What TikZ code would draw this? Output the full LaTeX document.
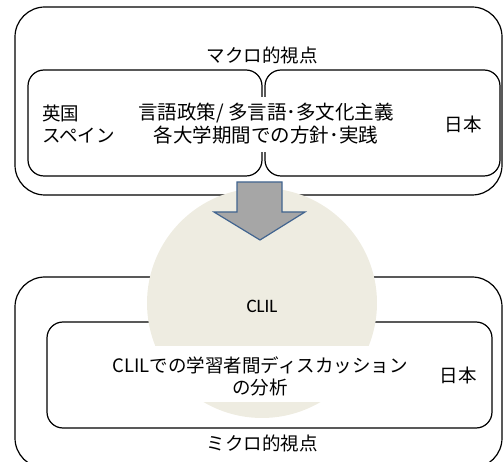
\documentclass[tikz,border=0pt]{standalone}
\usepackage{fontspec}
\setmainfont{Noto Sans CJK JP}
\newfontfamily\latinfont{Carlito}
\definecolor{beige}{HTML}{EEECE1}
\definecolor{arrowgray}{HTML}{A6A6A6}
\definecolor{arrowblue}{HTML}{41648F}
\begin{document}
\begin{tikzpicture}[x=1pt,y=-1pt,
  bigbox/.style={draw=black,line width=1.2pt,rounded corners=30pt},
  smallbox/.style={draw=black,line width=1.2pt,rounded corners=16pt},
  jtext/.style={font=\fontsize{18.5}{22}\selectfont,align=center,inner sep=0pt},
  cover/.style={fill=white,draw=none}]
\useasboundingbox (0,0) rectangle (504,462);
% top part
\draw[bigbox] (15,7) rectangle (502,195);
\draw[smallbox] (28,70) rectangle (262,176);
\draw[smallbox] (265,70) rectangle (500,176);
\fill[cover] (130,97) rectangle (400,152);
\node[jtext] (macro) at (262,55) {マクロ的視点};
\node[jtext,anchor=west,align=left] (uk) at (42,124) {英国\\スペイン};
\node[jtext,font=\fontsize{19.5}{23}\selectfont] (policy) at (266,124) {言語政策/ 多言語･多文化主義\\各大学期間での方針･実践};
\node[jtext] (jp1) at (463,124) {日本};
% bottom part
\draw[bigbox] (15,277) rectangle (502,468);
\draw[smallbox] (47,322) rectangle (492,428);
\fill[beige] (262,303) circle (115);
\fill[cover] (100,346) rectangle (430,402);
\node[font=\latinfont\fontsize{19}{20}\selectfont,inner sep=0pt] (clil) at (262,306) {CLIL};
\node[jtext] (disc) at (260,376) {CLILでの学習者間ディスカッション\\の分析};
\node[jtext] (jp2) at (458,375) {日本};
\node[jtext] (micro) at (262,443) {ミクロ的視点};
% arrow
\draw[fill=arrowgray,draw=arrowblue,line width=1.2pt,line join=miter]
  (237,182) -- (282,182) -- (282,212) -- (305,212) -- (260,240) -- (214,212) -- (237,212) -- cycle;
\end{tikzpicture}
\end{document}
